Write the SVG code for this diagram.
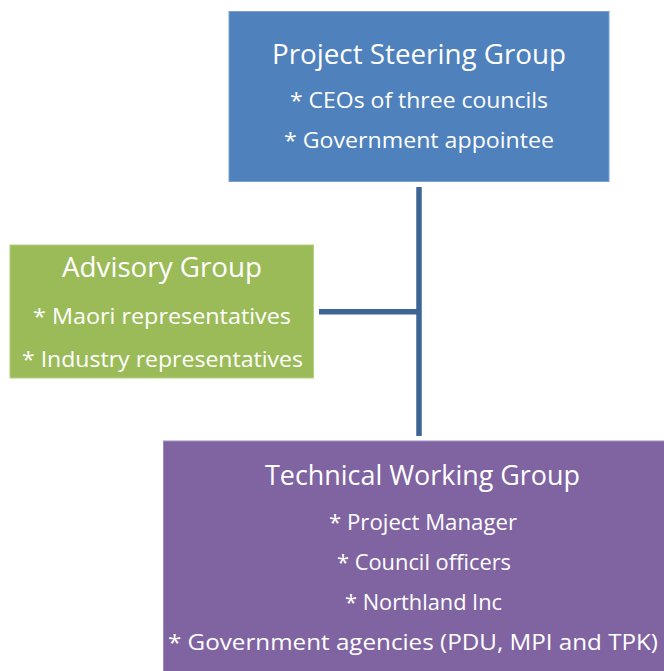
<svg xmlns="http://www.w3.org/2000/svg" width="664" height="671" viewBox="0 0 664 671">
  <style>
    .box-text { font-family: "Open Sans", "Noto Sans", "DejaVu Sans", sans-serif; fill: #ffffff; text-anchor: middle; }
    .title { font-size: 27px; }
    .item { font-size: 22.5px; }
    .link { stroke: #3D6696; stroke-width: 5.5; fill: none; }
  </style>

  <rect x="0" y="0" width="664" height="671" fill="#ffffff"/>

  <!-- connectors -->
  <g id="connectors">
    <line class="link" x1="419" y1="187" x2="419" y2="436"/>
    <line class="link" x1="319" y1="311.7" x2="419" y2="311.7"/>
  </g>

  <!-- Project Steering Group -->
  <g id="steering-group">
    <rect x="229" y="11.5" width="380" height="170" fill="#4F81BD" stroke="#7BA0D0" stroke-width="1"/>
    <text class="box-text title" x="419" y="64" textLength="294" lengthAdjust="spacingAndGlyphs">Project Steering Group</text>
    <text class="box-text item" x="419" y="108" textLength="258" lengthAdjust="spacingAndGlyphs">* CEOs of three councils</text>
    <text class="box-text item" x="419" y="148" textLength="270" lengthAdjust="spacingAndGlyphs">* Government appointee</text>
  </g>

  <!-- Advisory Group -->
  <g id="advisory-group">
    <rect x="10" y="245" width="303.5" height="133" fill="#9BBB59" stroke="#B5D07E" stroke-width="1"/>
    <text class="box-text title" x="162" y="277" textLength="200" lengthAdjust="spacingAndGlyphs">Advisory Group</text>
    <text class="box-text item" x="162" y="324" textLength="258" lengthAdjust="spacingAndGlyphs">* Maori representatives</text>
    <text class="box-text item" x="162.5" y="367" textLength="281" lengthAdjust="spacingAndGlyphs">* Industry representatives</text>
  </g>

  <!-- Technical Working Group -->
  <g id="technical-working-group">
    <rect x="163.5" y="441" width="520" height="240" fill="#8064A2" stroke="#A08BBE" stroke-width="1"/>
    <text class="box-text title" x="422.5" y="485" textLength="315" lengthAdjust="spacingAndGlyphs">Technical Working Group</text>
    <text class="box-text item" x="423" y="530" textLength="188" lengthAdjust="spacingAndGlyphs">* Project Manager</text>
    <text class="box-text item" x="424" y="570" textLength="174" lengthAdjust="spacingAndGlyphs">* Council officers</text>
    <text class="box-text item" x="423.5" y="610" textLength="157" lengthAdjust="spacingAndGlyphs">* Northland Inc</text>
    <text class="box-text item" x="413" y="650" textLength="490" lengthAdjust="spacingAndGlyphs">* Government agencies (PDU, MPI and TPK)</text>
  </g>
</svg>
